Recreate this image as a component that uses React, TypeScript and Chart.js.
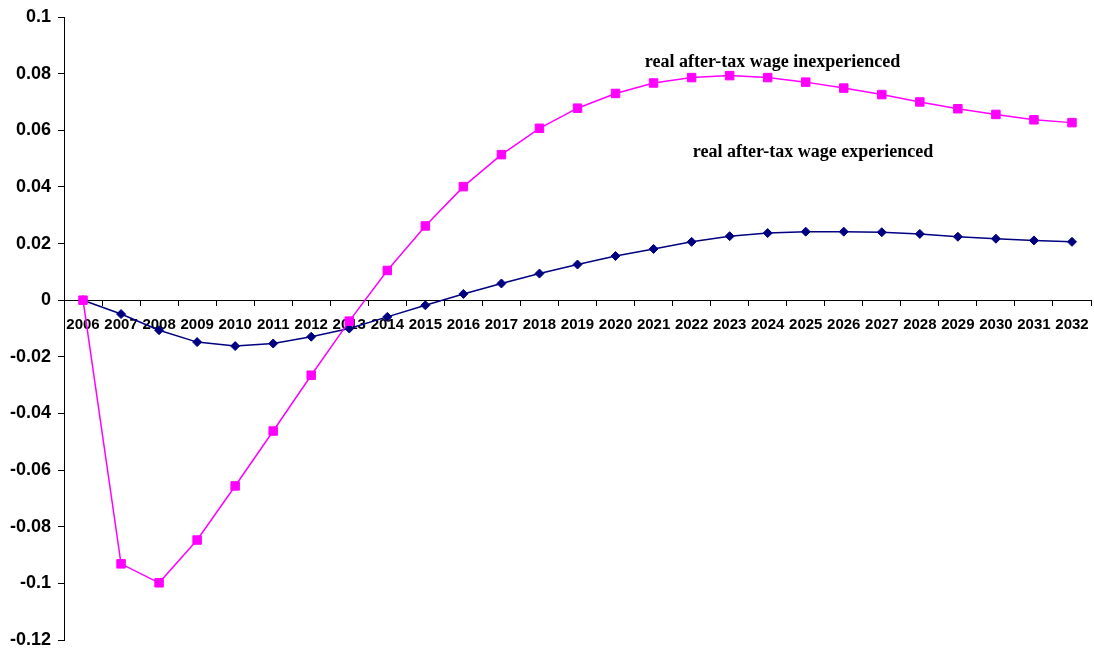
import React, { useEffect, useRef } from 'react';
import { Chart, registerables } from 'chart.js';

Chart.register(...registerables);

const years = [
  '2006', '2007', '2008', '2009', '2010', '2011', '2012', '2013', '2014',
  '2015', '2016', '2017', '2018', '2019', '2020', '2021', '2022', '2023',
  '2024', '2025', '2026', '2027', '2028', '2029', '2030', '2031', '2032',
];

const inexperienced = [
  0, -0.0931, -0.0998, -0.0847, -0.0656, -0.0462, -0.0265, -0.0074, 0.0105,
  0.0262, 0.0401, 0.0514, 0.0607, 0.0678, 0.073, 0.0767, 0.0786, 0.0793,
  0.0786, 0.077, 0.0749, 0.0726, 0.07, 0.0676, 0.0656, 0.0637, 0.0627,
];

const experienced = [
  0, -0.0049, -0.0106, -0.0148, -0.0162, -0.0153, -0.0129, -0.01, -0.0059,
  -0.0018, 0.0022, 0.0059, 0.0094, 0.0126, 0.0156, 0.0181, 0.0206, 0.0226,
  0.0237, 0.0242, 0.0242, 0.024, 0.0234, 0.0224, 0.0217, 0.0211, 0.0206,
];

const yMin = -0.12;
const yMax = 0.1;
const yStep = 0.02;

const seriesNames = ['real after-tax wage inexperienced', 'real after-tax wage experienced'];
// label anchors in data coordinates (category index, value)
const labelAnchorX = [14.77, 16.03];
const labelAnchorY = [0.0823, 0.0504];

const seriesLabelPlugin = {
  id: 'seriesLabels',
  afterDatasetsDraw(chart: any) {
    const { ctx, scales } = chart;
    const xs = scales.x;
    const ys = scales.y;
    ctx.save();
    ctx.font = 'bold 18px "Liberation Serif", "Times New Roman", serif';
    ctx.fillStyle = '#000000';
    ctx.textAlign = 'left';
    ctx.textBaseline = 'alphabetic';
    seriesNames.forEach((name, i) => {
      ctx.fillText(name, xs.getPixelForValue(labelAnchorX[i]), ys.getPixelForValue(labelAnchorY[i]));
    });
    ctx.restore();
  },
};

export default function App() {
  const canvasRef = useRef<HTMLCanvasElement | null>(null);

  useEffect(() => {
    if (!canvasRef.current) return;
    const chart = new Chart(canvasRef.current, {
      type: 'line',
      data: {
        labels: years,
        datasets: [
          {
            label: seriesNames[0],
            data: inexperienced,
            borderColor: '#FF00FF',
            backgroundColor: '#FF00FF',
            borderWidth: 1.5,
            pointStyle: 'rect',
            pointRadius: 6,
            pointBorderWidth: 1,
            pointBorderColor: '#FF00FF',
            pointBackgroundColor: '#FF00FF',
            tension: 0,
            fill: false,
          },
          {
            label: seriesNames[1],
            data: experienced,
            borderColor: '#000080',
            backgroundColor: '#000080',
            borderWidth: 1.5,
            pointStyle: 'rectRot',
            pointRadius: 4.5,
            pointBorderWidth: 1,
            pointBorderColor: '#000080',
            pointBackgroundColor: '#000080',
            tension: 0,
            fill: false,
          },
        ],
      },
      options: {
        responsive: false,
        animation: false,
        layout: { autoPadding: false, padding: { top: 17, right: 3, bottom: 11, left: 0 } },
        plugins: {
          legend: { display: false },
          tooltip: { enabled: false },
        },
        scales: {
          x: {
            type: 'category',
            position: { y: 0 } as any,
            offset: true,
            afterFit: (scale: any) => {
              scale.paddingLeft = 0;
              scale.paddingRight = 0;
              scale.paddingTop = 0;
              scale.paddingBottom = 0;
            },
            grid: {
              offset: true,
              drawOnChartArea: false,
              drawTicks: true,
              tickLength: 5,
              color: '#000000',
            },
            border: { display: true, color: '#000000', width: 1 },
            ticks: {
              color: '#000000',
              font: { family: '"Liberation Sans", Arial, sans-serif', size: 15, weight: 'bold' },
              maxRotation: 0,
              autoSkip: false,
              padding: 11,
            },
          },
          y: {
            type: 'linear',
            min: yMin,
            max: yMax,
            afterFit: (scale: any) => {
              scale.width = 64;
              scale.paddingTop = 0;
              scale.paddingBottom = 0;
              scale.paddingLeft = 0;
              scale.paddingRight = 0;
            },
            grid: {
              drawOnChartArea: false,
              drawTicks: true,
              tickLength: 6,
              color: '#000000',
            },
            border: { display: true, color: '#000000', width: 1 },
            ticks: {
              stepSize: yStep,
              color: '#000000',
              font: { family: '"Liberation Sans", Arial, sans-serif', size: 18, weight: 'bold' },
              padding: 7,
              callback: (v: any) => String(Math.round(Number(v) * 100) / 100),
            },
          },
        },
      },
      plugins: [seriesLabelPlugin],
    });
    return () => chart.destroy();
  }, []);

  return (
    <div style={{ position: 'absolute', left: 0, top: 0, width: 1094, height: 651, background: '#ffffff' }}>
      <canvas ref={canvasRef} width={1094} height={651} />
    </div>
  );
}
